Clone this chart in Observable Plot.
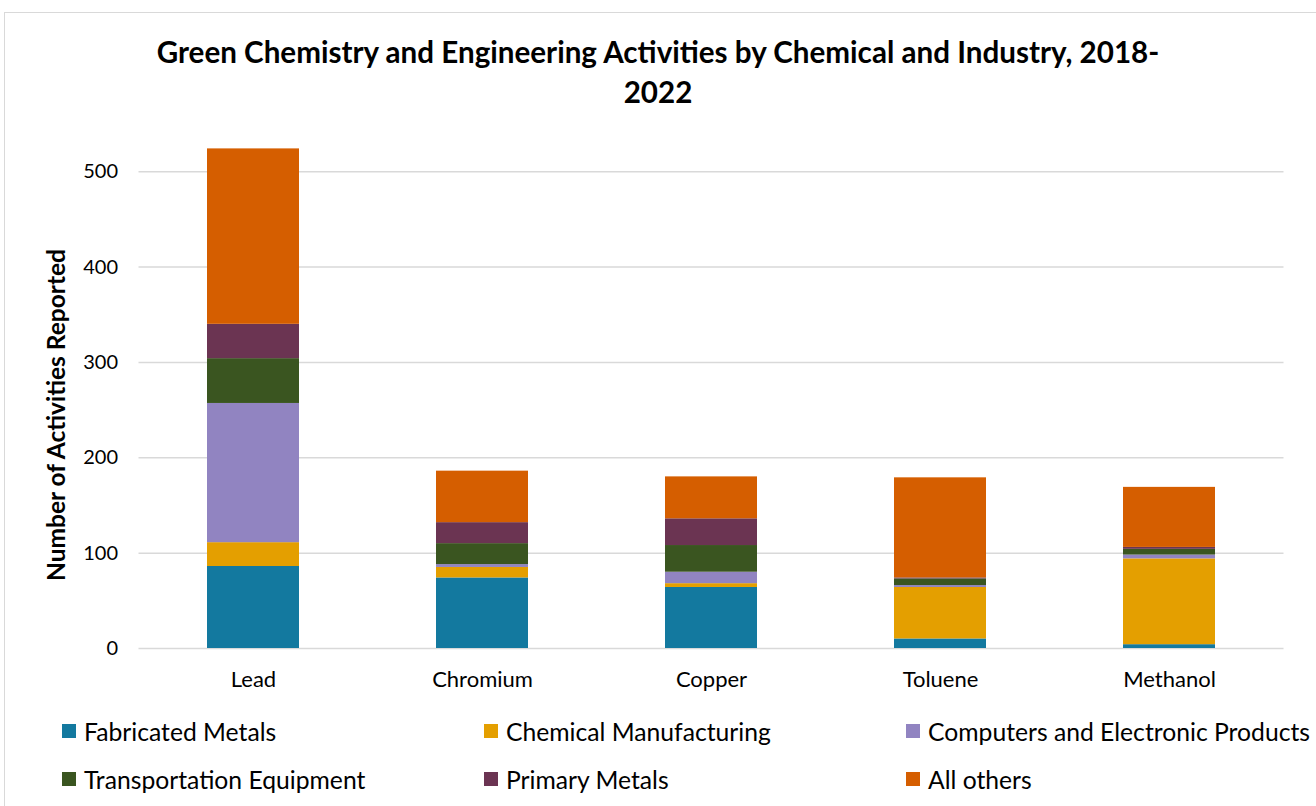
<!DOCTYPE html>
<html>
<head>
<meta charset="utf-8">
<script src="https://cdn.jsdelivr.net/npm/d3@7"></script>
<script src="https://cdn.jsdelivr.net/npm/@observablehq/plot@0.6"></script>
<style>
  html, body { margin: 0; padding: 0; background: #fff; }
  body { width: 1316px; height: 806px; position: relative; overflow: hidden; font-family: Lato, "Open Sans", sans-serif; color: #000; }
  #frame { position: absolute; left: 4px; top: 12px; width: 1400px; height: 900px; border-left: 1.5px solid #d9d9d9; border-top: 1.5px solid #d9d9d9; }
  #title { position: absolute; left: 0; width: 1316px; top: 32px; text-align: center; font-weight: bold; font-size: 29.6px; line-height: 40px; }
  #chart { position: absolute; left: 0; top: 0; }
  #ylabel { position: absolute; left: 55px; top: 415px; transform: translate(-50%, -50%) rotate(-90deg); font-weight: bold; font-size: 24.5px; white-space: nowrap; }
  #legend { position: absolute; left: 62px; top: 712px; display: grid; grid-template-columns: 422px 422px 422px; row-gap: 10px; font-size: 24.7px; }
  .item { display: flex; align-items: center; height: 38px; white-space: nowrap; }
  .sw { width: 14px; height: 14px; margin-right: 8px; flex: none; }
</style>
</head>
<body>
<div id="frame"></div>
<div id="chart"></div>
<div id="title">Green Chemistry and Engineering Activities by Chemical and Industry, 2018-<br>2022</div>
<div id="ylabel">Number of Activities Reported</div>
<div id="legend"></div>
<script>
const chemicals = ["Lead", "Chromium", "Copper", "Toluene", "Methanol"];
const industries = ["Fabricated Metals", "Chemical Manufacturing", "Computers and Electronic Products", "Transportation Equipment", "Primary Metals", "All others"];
const colors = ["#13799f", "#e49f00", "#9184c1", "#3a5520", "#6b3452", "#d55e00"];
const fabricatedMetals        = [86, 74, 64, 10, 4];
const chemicalManufacturing   = [25, 11, 4, 54, 90];
const computersElectronics    = [146, 3, 12, 2, 4];
const transportationEquipment = [47, 22, 28, 7, 6];
const primaryMetals           = [36, 22, 28, 1, 2];
const allOthers               = [184, 54, 44, 105, 63];
const yTicks = [0, 100, 200, 300, 400, 500];

const series = [fabricatedMetals, chemicalManufacturing, computersElectronics, transportationEquipment, primaryMetals, allOthers];
const data = [];
industries.forEach((ind, i) => chemicals.forEach((c, j) => data.push({chemical: c, industry: ind, value: series[i][j]})));

const chart = Plot.plot({
  width: 1316,
  height: 700,
  marginLeft: 138.5,
  marginRight: 32.5,
  marginTop: 123.6,
  marginBottom: 52,
  style: {fontFamily: "Lato, 'Open Sans', sans-serif", color: "#000", background: "transparent"},
  x: {domain: chemicals, paddingInner: 0.6, paddingOuter: 0.3},
  y: {domain: [0, 550]},
  color: {domain: industries, range: colors},
  marks: [
    Plot.ruleY(yTicks, {stroke: "#d9d9d9", strokeWidth: 1.5}),
    Plot.barY(data, {x: "chemical", y: "value", fill: "industry", order: industries}),
    Plot.axisY({ticks: yTicks, tickSize: 0, tickPadding: 21, fontSize: 20, label: null}),
    Plot.axisX({tickSize: 0, tickPadding: 23, fontSize: 22, label: null})
  ]
});
document.getElementById("chart").appendChild(chart);

const legend = document.getElementById("legend");
industries.forEach((ind, i) => {
  const d = document.createElement("div");
  d.className = "item";
  d.innerHTML = `<span class="sw" style="background:${colors[i]}"></span><span>${ind}</span>`;
  legend.appendChild(d);
});
</script>
</body>
</html>
